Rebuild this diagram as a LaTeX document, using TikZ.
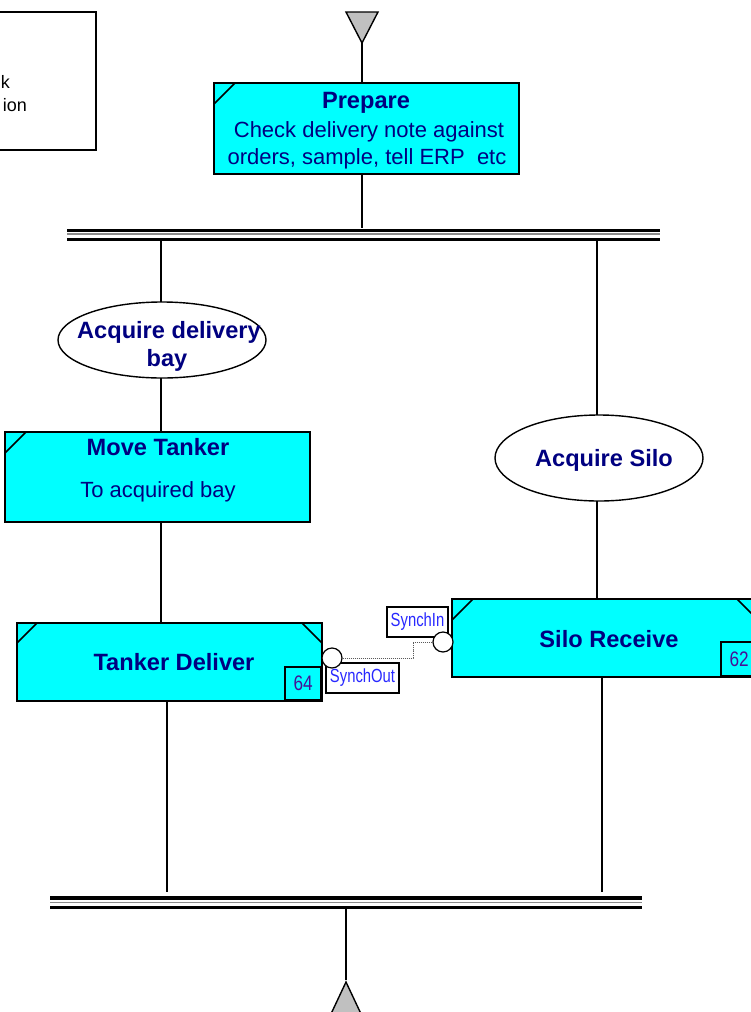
\documentclass[tikz,border=0pt]{standalone}
\usepackage{fontspec}
\setmainfont{Liberation Sans}
\usetikzlibrary{shapes.geometric}
\definecolor{taskfill}{RGB}{0,255,255}
\definecolor{titleblue}{RGB}{0,0,128}
\definecolor{numpurple}{RGB}{72,16,150}
\definecolor{synchblue}{RGB}{40,40,255}
\definecolor{tokengray}{RGB}{192,192,192}
\definecolor{barmid}{RGB}{140,140,140}
\definecolor{linkgray}{RGB}{90,90,90}

\begin{document}
\begin{tikzpicture}[x=1pt,y=-1pt,
  task/.style={draw=black, line width=1.6pt, fill=taskfill, rectangle, inner sep=0pt, outer sep=0pt},
  corner/.style={draw=black, line width=1.5pt},
  title/.style={text=titleblue, font=\fontsize{23.6}{27}\selectfont\bfseries, inner sep=0pt, text height=16.5pt, text depth=0pt},
  body/.style={text=titleblue, font=\fontsize{22}{26}\selectfont, inner sep=0pt, text height=15.5pt, text depth=0pt},
  resource/.style={draw=black, line width=1.4pt, fill=white, ellipse, inner sep=0pt, outer sep=0pt},
  flow/.style={draw=black, line width=1.7pt},
  numbox/.style={draw=black, line width=1.6pt, fill=taskfill, inner sep=0pt, minimum width=36pt,
    text=numpurple, font=\fontsize{21}{24}\selectfont},
  synchlabel/.style={draw=black, line width=1.6pt, fill=white, inner sep=0pt, minimum height=30pt,
    text=synchblue, font=\fontsize{19}{22}\selectfont},
  port/.style={circle, draw=black, line width=1.2pt, fill=white, minimum size=20pt, inner sep=0pt},
  barnode/.style={inner sep=0pt, outer sep=0pt, minimum height=12pt},
  notetext/.style={inner sep=0pt, anchor=east, font=\fontsize{18}{21}\selectfont, text height=13pt, text depth=0pt}
]
\useasboundingbox (0,0) rectangle (750,1012);

% note box at the upper left
\node[draw=black, line width=1.4pt, minimum width=110pt, minimum height=138pt, inner sep=0pt] (note) at (41,81) {};
\node[notetext] (noteA) at (10,82) {k};
\node[notetext] (noteB) at (27,105) {ion};

% start token
\coordinate (starttip) at (362,43);
\draw[line width=1.4pt, fill=tokengray] (346,12) -- (378,12) -- (starttip) -- cycle;

% Prepare
\node[task, minimum width=305pt, minimum height=91pt] (prep) at (366.5,128.5) {};
\draw[corner] ([yshift=-21pt]prep.north west) -- ([xshift=21pt]prep.north west);
\node[title] (prepT) at (366,100) {Prepare};
\node[body] (prepB1) at (369,130) {Check delivery note against};
\node[body] (prepB2) at (367,157) {orders, sample, tell ERP\ \ etc};

% fork bar
\node[barnode, minimum width=593pt] (topbar) at (363.5,235) {};
\draw[line width=3.2pt] ([yshift=4.5pt]topbar.west) -- ([yshift=4.5pt]topbar.east);
\draw[line width=1.3pt, barmid] ([yshift=1pt]topbar.west) -- ([yshift=1pt]topbar.east);
\draw[line width=3.2pt] ([yshift=-4.2pt]topbar.west) -- ([yshift=-4.2pt]topbar.east);

% lanes
\coordinate (laneL) at (161,0);
\coordinate (laneR) at (597,0);
\coordinate (outL) at (167,0);
\coordinate (outR) at (602,0);

% left lane
\node[resource, minimum width=208pt, minimum height=76pt] (acqbay) at (162,340) {};
\node[title] (acqbayT1) at (169,330) {Acquire delivery};
\node[title] (acqbayT2) at (167,358) {bay};

\node[task, minimum width=305pt, minimum height=90pt] (move) at (157.5,477) {};
\draw[corner] ([yshift=-21pt]move.north west) -- ([xshift=21pt]move.north west);
\node[title] (moveT) at (158,447) {Move Tanker};
\node[body] (moveB) at (158,490) {To acquired bay};

\node[task, minimum width=305pt, minimum height=78pt] (tank) at (169.5,662) {};
\draw[corner] ([yshift=-20pt]tank.north west) -- ([xshift=20pt]tank.north west);
\draw[corner] ([yshift=-20pt]tank.north east) -- ([xshift=-20pt]tank.north east);
\node[title] (tankT) at (174,662) {Tanker Deliver};
\node[numbox, minimum height=33pt, anchor=south east] (n64) at (tank.south east) {\scalebox{0.82}[1]{64}};

% right lane
\node[resource, minimum width=208pt, minimum height=86pt] (acqsilo) at (599,458) {};
\node[title] (acqsiloT) at (604,458) {Acquire Silo};

\node[task, minimum width=306pt, minimum height=78pt] (silo) at (605,638) {};
\draw[corner] ([yshift=-21pt]silo.north west) -- ([xshift=21pt]silo.north west);
\draw[corner] ([yshift=-21pt]silo.north east) -- ([xshift=-21pt]silo.north east);
\node[title] (siloT) at (609,639) {Silo Receive};
\node[numbox, minimum height=34pt, anchor=south east] (n62) at (silo.south east) {\scalebox{0.82}[1]{62}};

% synchronisation ports and their dotted link
\node[synchlabel, minimum width=73pt] (soLabel) at (362.5,678) {\scalebox{0.78}[1]{SynchOut}};
\node[synchlabel, minimum width=61pt] (siLabel) at (417.5,622) {\scalebox{0.78}[1]{SynchIn}};
\node[port] (so) at (332,658) {};
\node[port] (si) at (443,642) {};
\coordinate (sbend) at (413,650);
\draw[linkgray, line width=1pt, dash pattern=on 1pt off 1pt] (so.east) -| (sbend) |- (si.west);

% join bar
\node[barnode, minimum width=592pt] (botbar) at (346,903) {};
\draw[line width=3.2pt] ([yshift=5pt]botbar.west) -- ([yshift=5pt]botbar.east);
\draw[line width=1.3pt, barmid] ([yshift=0.5pt]botbar.west) -- ([yshift=0.5pt]botbar.east);
\draw[line width=3.2pt] ([yshift=-4.5pt]botbar.west) -- ([yshift=-4.5pt]botbar.east);

% end token
\coordinate (endtip) at (346,982);
\draw[line width=1.4pt, fill=tokengray] (endtip) -- (362,1016) -- (330,1016) -- cycle;

% flow connectors
\draw[flow] (starttip) -- (prep.north -| starttip);
\draw[flow] (prep.south -| starttip) -- ([yshift=1pt]topbar.north -| starttip);
\draw[flow] (topbar.south -| laneL) -- (acqbay.north -| laneL);
\draw[flow] (acqbay.south -| laneL) -- (move.north -| laneL);
\draw[flow] (move.south -| laneL) -- (tank.north -| laneL);
\draw[flow] (topbar.south -| laneR) -- (acqsilo.north -| laneR);
\draw[flow] (acqsilo.south -| laneR) -- (silo.north -| laneR);
\draw[flow] (tank.south -| outL) -- ([yshift=5pt]botbar.north -| outL);
\draw[flow] (silo.south -| outR) -- ([yshift=5pt]botbar.north -| outR);
\draw[flow] (botbar.south) -- ([yshift=2pt]endtip);
\end{tikzpicture}
\end{document}
